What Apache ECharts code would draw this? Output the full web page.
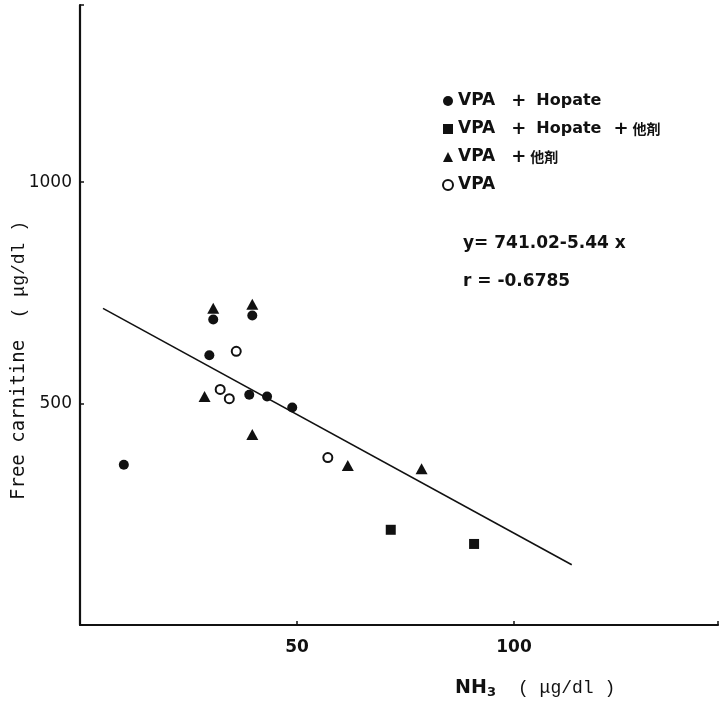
<!DOCTYPE html>
<html>
<head>
<meta charset="utf-8">
<script src="https://cdn.jsdelivr.net/npm/echarts@6/dist/echarts.min.js"></script>
<style>html,body{margin:0;padding:0;background:#fff}#c{width:721px;height:706px}</style>
</head>
<body>
<div id="c"></div>
<script>
// ---- data ----
const seriesNames = ['VPA + Hopate', 'VPA + Hopate + 他剤', 'VPA + 他剤', 'VPA'];
const hopateX = [10.1, 29.8, 30.7, 39.7, 39.0, 43.1, 48.9];
const hopateY = [362, 609, 690, 699, 520, 516, 491];
const hopateOtherX = [71.6, 90.8];
const hopateOtherY = [215, 183];
const otherX = [28.7, 30.7, 39.7, 39.7, 61.7, 78.7];
const otherY = [516, 715, 724, 430, 360, 353];
const vpaX = [32.3, 34.4, 36.0, 57.1];
const vpaY = [532, 511, 618, 378];
const fitX = [5.3, 113.3];
const fitY = [715, 136];
const xTicks = [50, 100];
const yTicks = [500, 1000];
const equationText = 'y= 741.02-5.44 x';
const rText = 'r = -0.6785';

const pairs = (xs, ys) => xs.map((x, i) => [x, ys[i]]);
const ink = '#111';

const legendRich = {
  t: {fontFamily: 'DejaVu Sans', fontWeight: 'bold', fontSize: 16, color: ink},
  v: {fontFamily: 'DejaVu Sans', fontWeight: 'bold', fontSize: 17, color: ink},
  p1: {fontFamily: 'DejaVu Sans', fontWeight: 'bold', fontSize: 18, color: ink, padding: [0, 10, 0, 16]},
  p2: {fontFamily: 'DejaVu Sans', fontWeight: 'bold', fontSize: 18, color: ink, padding: [0, 4, 0, 12]},
  p3: {fontFamily: 'DejaVu Sans', fontWeight: 'bold', fontSize: 18, color: ink, padding: [0, 4, 0, 16]},
  c: {fontFamily: 'Noto Sans CJK JP', fontWeight: 'bold', fontSize: 14, color: ink}
};
const legendLabel = {
  'VPA + Hopate': '{v|VPA}{p1|+}{t|Hopate}',
  'VPA + Hopate + 他剤': '{v|VPA}{p1|+}{t|Hopate}{p2|+}{c|他剤}',
  'VPA + 他剤': '{v|VPA}{p3|+}{c|他剤}',
  'VPA': '{v|VPA}'
};

const chart = echarts.init(document.getElementById('c'), null, {renderer: 'canvas'});
chart.setOption({
  backgroundColor: '#fff',
  animation: false,
  grid: {left: 80, right: 0, top: 5, bottom: 81, containLabel: false},
  xAxis: {
    type: 'value', min: 0, max: 147, interval: 50,
    axisLine: {show: true, lineStyle: {color: ink, width: 2.2}},
    axisTick: {show: true, inside: true, length: 4, lineStyle: {color: ink, width: 1.5}},
    axisLabel: {
      margin: 14, color: ink, fontFamily: 'DejaVu Sans', fontWeight: 'bold', fontSize: 17,
      formatter: v => xTicks.includes(v) ? String(v) : ''
    },
    splitLine: {show: false}
  },
  yAxis: {
    type: 'value', min: 0, max: 1400, interval: 500,
    axisLine: {show: true, lineStyle: {color: ink, width: 2.2}},
    axisTick: {show: true, inside: true, length: 4, lineStyle: {color: ink, width: 1.5}},
    axisLabel: {
      margin: 8, color: ink, fontFamily: 'DejaVu Sans', fontWeight: 500, fontSize: 17,
      formatter: v => yTicks.includes(v) ? String(v) : ''
    },
    splitLine: {show: false}
  },
  legend: {
    orient: 'vertical', left: 437, top: 86,
    itemWidth: 10, itemHeight: 10, itemGap: 8,
    data: seriesNames,
    formatter: n => legendLabel[n],
    textStyle: {lineHeight: 20, rich: legendRich}
  },
  series: [
    {name: seriesNames[0], type: 'scatter', symbol: 'circle', symbolSize: 10,
     itemStyle: {color: ink, opacity: 1}, data: pairs(hopateX, hopateY)},
    {name: seriesNames[1], type: 'scatter', symbol: 'rect', symbolSize: 10,
     itemStyle: {color: ink, opacity: 1}, data: pairs(hopateOtherX, hopateOtherY)},
    {name: seriesNames[2], type: 'scatter', symbol: 'triangle', symbolSize: [12, 11],
     itemStyle: {color: ink, opacity: 1}, data: pairs(otherX, otherY)},
    {name: seriesNames[3], type: 'scatter', symbol: 'emptyCircle', symbolSize: 9,
     itemStyle: {color: ink, borderColor: ink, borderWidth: 1.4, opacity: 1}, data: pairs(vpaX, vpaY)},
    {name: 'fit', type: 'line', symbol: 'none', silent: true,
     lineStyle: {color: ink, width: 1.6}, data: pairs(fitX, fitY), z: 1}
  ],
  graphic: [
    {type: 'text', x: 463, y: 244, style: {text: equationText, fill: ink, font: 'bold 17px "DejaVu Sans"', textAlign: 'left', textVerticalAlign: 'middle'}},
    {type: 'text', x: 463, y: 282, style: {text: rText, fill: ink, font: 'bold 17px "DejaVu Sans"', textAlign: 'left', textVerticalAlign: 'middle'}},
    {type: 'text', x: 455, y: 688, style: {text: 'NH', fill: ink, font: 'bold 19px "DejaVu Sans"', textAlign: 'left', textVerticalAlign: 'middle'}},
    {type: 'text', x: 487, y: 693, style: {text: '3', fill: ink, font: 'bold 13px "DejaVu Sans"', textAlign: 'left', textVerticalAlign: 'middle'}},
    {type: 'text', x: 518, y: 688, style: {text: '( μg/dl )', fill: ink, font: '18px "Liberation Mono"', textAlign: 'left', textVerticalAlign: 'middle'}},
    {type: 'text', x: 19, y: 500, rotation: Math.PI / 2,
     style: {text: '{a|Free carnitine}{b|  ( μg/dl )}', textAlign: 'left', textVerticalAlign: 'middle',
       rich: {a: {fontFamily: 'DejaVu Sans Mono', fontSize: 19, fill: ink, color: ink},
              b: {fontFamily: 'Liberation Mono', fontSize: 18, fill: ink, color: ink}}}}
  ]
});
</script>
</body>
</html>
